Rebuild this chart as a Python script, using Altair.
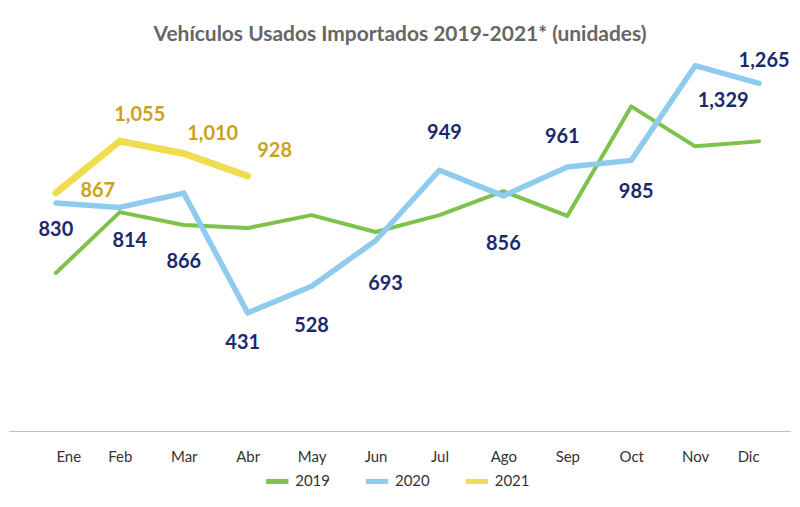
import pandas as pd
import altair as alt

months = ["Ene", "Feb", "Mar", "Abr", "May", "Jun", "Jul", "Ago", "Sep", "Oct", "Nov", "Dic"]
v2019 = [576, 797, 750, 739, 786, 725, 786, 873, 783, 1181, 1036, 1054]
v2020 = [830, 814, 866, 431, 528, 693, 949, 856, 961, 985, 1329, 1265]
v2021 = [867, 1055, 1010, 928]

rows = []
for yr, vals in [("2019", v2019), ("2020", v2020), ("2021", v2021)]:
    for i, v in enumerate(vals):
        rows.append({"i": i, "valor": v, "anio": yr})
df = pd.DataFrame(rows)

# label offsets in pixels (dx right, dy down) for the value labels
off2020 = [(0, 27), (10, 34), (0, 69), (-5, 30), (0, 40), (10, 43),
           (5, -37), (0, 48), (-5, -30), (5, 32), (28, 35), (5, -22)]
off2021 = [(42, -2), (20, -26), (29, -20), (27, -25)]
px_x = 705 / 11      # pixels per month
px_y = 386.4 / 1400  # pixels per unit
lab = []
for yr, vals, offs in [("2020", v2020, off2020), ("2021", v2021, off2021)]:
    for i, (v, (dx, dy)) in enumerate(zip(vals, offs)):
        lab.append({"i": i + dx / px_x, "valor": v - dy / px_y, "anio": yr, "txt": f"{v:,}"})
lab = pd.DataFrame(lab)

month_expr = "[" + ",".join(f"'{m}'" for m in months) + "][datum.value]"
xs = alt.X("i:Q", scale=alt.Scale(domain=[0, 11], range=[47, 752], nice=False, zero=False),
           axis=alt.Axis(title=None, domain=False, ticks=False, grid=False, labelPadding=2,
                         values=list(range(12)), labelExpr=month_expr, labelAngle=0,
                         labelFont="Lato", labelFontSize=15, labelColor="#333"))
ys = alt.Y("valor:Q", scale=alt.Scale(domain=[0, 1400], range=[424, 37.6]), axis=None)

colors = alt.Scale(domain=["2019", "2020", "2021"], range=["#7dc24b", "#8ecbef", "#f0dc50"])

lines = alt.Chart(df).mark_line(strokeCap="round", strokeJoin="round").encode(
    x=xs, y=ys,
    color=alt.Color("anio:N", scale=colors,
                    legend=alt.Legend(title=None, orient="none", legendX=255, legendY=460,
                                      direction="horizontal", symbolType="stroke",
                                      symbolStrokeWidth=5, symbolSize=500,
                                      labelFont="Lato", labelFontSize=15, labelColor="#333",
                                      columnPadding=25)),
    strokeWidth=alt.StrokeWidth("anio:N", scale=alt.Scale(domain=["2019", "2020", "2021"], range=[4, 7, 6]), legend=None),
)

base_rule = alt.Chart(pd.DataFrame({"valor": [0]})).mark_rule(color="#bbb", strokeWidth=1).encode(
    y=ys, x=alt.value(0), x2=alt.value(784))

labels = alt.Chart(lab).mark_text(font="Lato", fontWeight="bold", fontSize=20).encode(
    x=xs, y=ys, text="txt:N",
    color=alt.Color("anio:N", scale=alt.Scale(domain=["2020", "2021"], range=["#1a2a6c", "#c9a21a"]), legend=None),
)

title = alt.Chart(pd.DataFrame({"t": ["Vehículos Usados Importados 2019-2021* (unidades)"]})).mark_text(
    font="Lato", fontWeight="bold", fontSize=21, color="#666").encode(
    text="t:N", x=alt.value(392), y=alt.value(26))

chart = alt.layer(base_rule, lines, labels, title).resolve_scale(color="independent").properties(
    width=784, height=440, padding=0
).configure_view(stroke=None)

chart.save("out.html", embed_options={"renderer": "svg", "actions": False})
